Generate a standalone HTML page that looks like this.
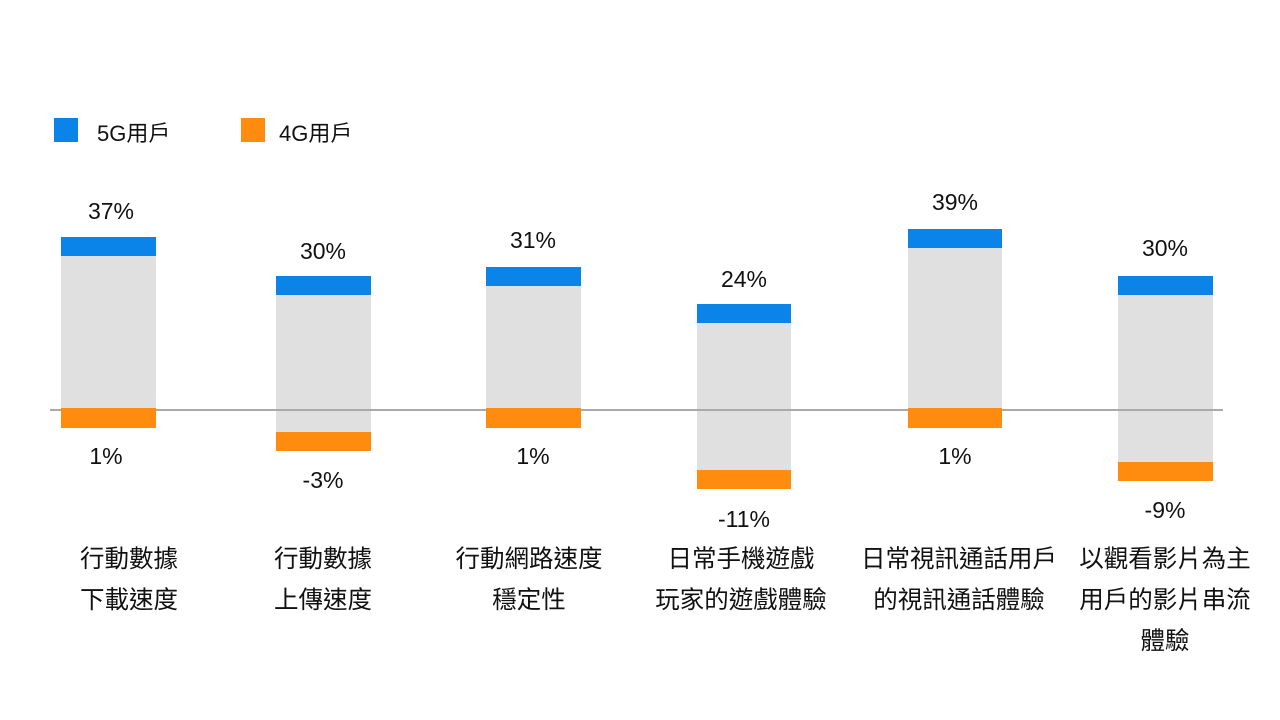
<!DOCTYPE html>
<html><head><meta charset="utf-8"><style>
body{margin:0;width:1280px;height:720px;background:#fff;overflow:hidden;position:relative;font-family:"Liberation Sans","Noto Sans CJK TC",sans-serif;color:#111}
.a{position:absolute}
.b{background:#0a84e8}.o{background:#ff8c0f}.g{background:#e0e0e0}
.p{position:absolute;width:140px;text-align:center;font-family:"Liberation Sans",sans-serif;font-size:23px;line-height:24px}
.c{position:absolute;width:220px;text-align:center;font-size:24.5px;line-height:41px;font-family:"Noto Sans CJK TC",sans-serif;color:#111}
</style></head><body>
<div class="a b" style="left:54px;top:118px;width:24px;height:24px"></div>
<div class="a" style="left:97px;top:116px;font-size:22px;font-family:'Liberation Sans','Noto Sans CJK TC',sans-serif">5G用戶</div>
<div class="a o" style="left:241px;top:118px;width:24px;height:24px"></div>
<div class="a" style="left:279px;top:116px;font-size:22px;font-family:'Liberation Sans','Noto Sans CJK TC',sans-serif">4G用戶</div>

<div class="a g" style="left:61px;top:256px;width:95px;height:154px"></div>
<div class="a g" style="left:276px;top:295px;width:95px;height:137px"></div>
<div class="a g" style="left:486px;top:286px;width:95px;height:124px"></div>
<div class="a g" style="left:697px;top:323px;width:94px;height:147px"></div>
<div class="a g" style="left:908px;top:248px;width:94px;height:162px"></div>
<div class="a g" style="left:1118px;top:295px;width:95px;height:167px"></div>

<div class="a" style="left:50px;top:409px;width:1173px;height:2px;background:#aaa"></div>

<div class="a b" style="left:61px;top:237px;width:95px;height:19px"></div>
<div class="a b" style="left:276px;top:276px;width:95px;height:19px"></div>
<div class="a b" style="left:486px;top:267px;width:95px;height:19px"></div>
<div class="a b" style="left:697px;top:304px;width:94px;height:19px"></div>
<div class="a b" style="left:908px;top:229px;width:94px;height:19px"></div>
<div class="a b" style="left:1118px;top:276px;width:95px;height:19px"></div>

<div class="a o" style="left:61px;top:408px;width:95px;height:20px"></div>
<div class="a o" style="left:276px;top:432px;width:95px;height:19px"></div>
<div class="a o" style="left:486px;top:408px;width:95px;height:20px"></div>
<div class="a o" style="left:697px;top:470px;width:94px;height:19px"></div>
<div class="a o" style="left:908px;top:408px;width:94px;height:20px"></div>
<div class="a o" style="left:1118px;top:462px;width:95px;height:19px"></div>

<div class="p" style="left:41px;top:199px">37%</div>
<div class="p" style="left:253px;top:239px">30%</div>
<div class="p" style="left:463px;top:228px">31%</div>
<div class="p" style="left:674px;top:267px">24%</div>
<div class="p" style="left:885px;top:190px">39%</div>
<div class="p" style="left:1095px;top:236px">30%</div>

<div class="p" style="left:36px;top:444px">1%</div>
<div class="p" style="left:253px;top:468px">-3%</div>
<div class="p" style="left:463px;top:444px">1%</div>
<div class="p" style="left:674px;top:507px">-11%</div>
<div class="p" style="left:885px;top:444px">1%</div>
<div class="p" style="left:1095px;top:498px">-9%</div>

<div class="c" style="left:19px;top:537px">行動數據<br>下載速度</div>
<div class="c" style="left:213px;top:537px">行動數據<br>上傳速度</div>
<div class="c" style="left:419px;top:537px">行動網路速度<br>穩定性</div>
<div class="c" style="left:631px;top:537px">日常手機遊戲<br>玩家的遊戲體驗</div>
<div class="c" style="left:849px;top:537px">日常視訊通話用戶<br>的視訊通話體驗</div>
<div class="c" style="left:1055px;top:537px">以觀看影片為主<br>用戶的影片串流<br>體驗</div>
</body></html>
